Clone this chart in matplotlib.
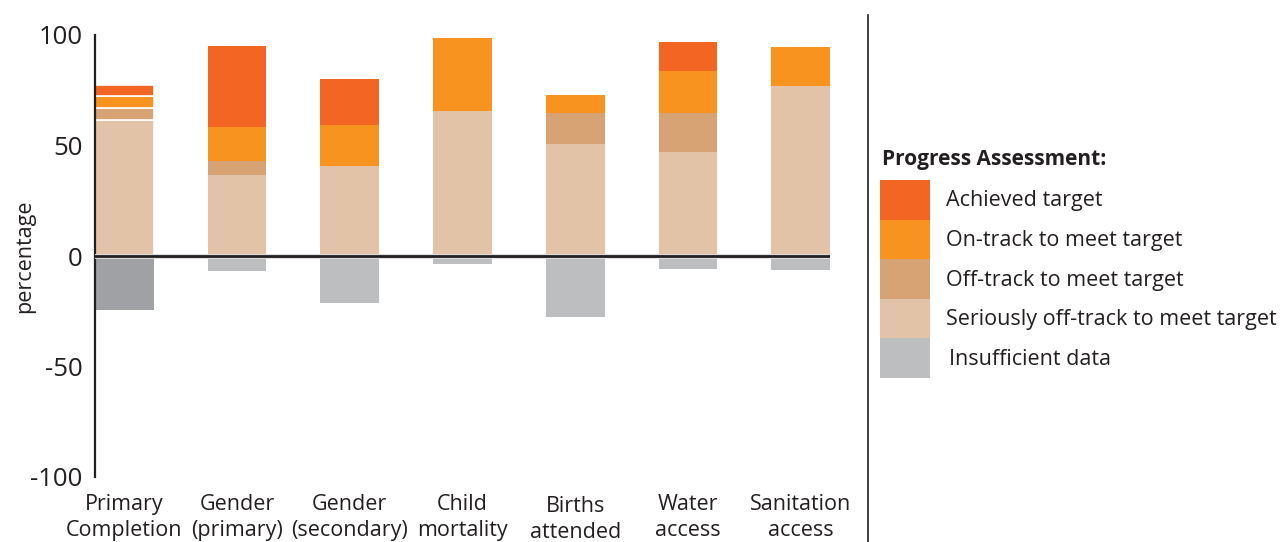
import numpy as np
import matplotlib.pyplot as plt
from matplotlib.lines import Line2D
from matplotlib.transforms import ScaledTranslation

plt.rcParams['font.family'] = ['Open Sans', 'DejaVu Sans']
plt.rcParams['axes.unicode_minus'] = False

categories = ["Primary\nCompletion", "Gender\n(primary)", "Gender\n(secondary)",
              "Child\nmortality", "Births\nattended", "Water\naccess", "Sanitation\naccess"]

seriously = [61.5, 36.7, 40.7, 65.6, 50.7, 47.1, 76.9]
off_track = [5.5, 6.4, 0.0, 0.0, 14.0, 17.6, 0.0]
on_track = [5.4, 15.3, 18.6, 33.0, 8.2, 19.0, 17.7]
achieved = [5.0, 36.6, 20.8, 0.0, 0.0, 13.1, 0.0]
insufficient = [24.4, 6.6, 21.1, 3.6, 27.6, 5.9, 6.3]

legend_labels = ["Achieved target", "On-track to meet target", "Off-track to meet target",
                 "Seriously off-track to meet target", "Insufficient data"]

c_achieved = "#f26522"
c_on = "#f7931e"
c_off = "#d7a375"
c_serious = "#e3c3a7"
c_insuff = "#bcbec0"
c_insuff_dark = "#a0a1a5"

W, H = 1286, 542
fig = plt.figure(figsize=(W / 100, H / 100), dpi=100)
ax = fig.add_axes([95 / W, 1 - 477 / H, (830 - 95) / W, (477 - 35) / H])

x = np.arange(len(categories))
width = 0.52

seriously = np.array(seriously)
off_track = np.array(off_track)
on_track = np.array(on_track)
achieved = np.array(achieved)
insufficient = np.array(insufficient)

# 第一根柱子的各段之間有白色分隔線
edges = ["white"] + ["none"] * (len(x) - 1)
lws = [1.2] + [0] * (len(x) - 1)

ax.bar(x, seriously, width, color=c_serious, edgecolor=edges, linewidth=lws)
ax.bar(x, off_track, width, bottom=seriously, color=c_off, edgecolor=edges, linewidth=lws)
ax.bar(x, on_track, width, bottom=seriously + off_track, color=c_on,
       edgecolor=edges, linewidth=lws)
ax.bar(x, achieved, width, bottom=seriously + off_track + on_track, color=c_achieved,
       edgecolor=edges, linewidth=lws)

insuff_colors = [c_insuff_dark] + [c_insuff] * (len(x) - 1)
ax.bar(x, -insufficient, width, color=insuff_colors)

ax.axhline(0, color="#dddddd", lw=3.5, zorder=3)
ax.axhline(0, color="#231f20", lw=2, zorder=4)

ax.set_xlim(-width / 2, len(x) - 1 + width / 2)
ax.set_ylim(-100, 100)
ax.set_yticks([-100, -50, 0, 50, 100])
ax.set_xticks(x)
ax.set_xticklabels(categories, fontsize=15.5, linespacing=1.33, color="#231f20")
ax.tick_params(axis="x", length=0, pad=12)
ax.tick_params(axis="y", length=0, pad=9, labelsize=18.5, labelcolor="#231f20")

# "Births attended" 在原圖中稍微偏低
lab = ax.get_xticklabels()[4]
lab.set_transform(lab.get_transform() + ScaledTranslation(0, -2 / 100, fig.dpi_scale_trans))

for s in ["top", "right", "bottom"]:
    ax.spines[s].set_visible(False)
ax.spines["left"].set_linewidth(1.6)
ax.spines["left"].set_color("#231f20")

ax.set_ylabel("percentage", fontsize=15.5, color="#231f20")
ax.yaxis.set_label_coords((35 - 95) / 735, 0.5)

# 分隔線
fig.add_artist(Line2D([868 / W, 868 / W], [0, 1 - 15 / H], color="#231f20", lw=1.2))

# 圖例
lax = fig.add_axes([870 / W, 1 - 390 / H, (W - 870) / W, 250 / H])
lax.set_xlim(870, W)
lax.set_ylim(390, 140)
lax.axis("off")

lax.text(882, 160, "Progress Assessment:", fontsize=15, fontweight="bold",
         va="center", ha="left", color="#231f20")
legend_colors = [c_achieved, c_on, c_off, c_serious, c_insuff]
for i, (lab, col) in enumerate(zip(legend_labels, legend_colors)):
    top = 180 + i * 39.6
    lax.bar(905, 39.6, 50, bottom=top, color=col)
    lax.text(946 + (3 if i == 4 else 0), top + 21, lab, fontsize=15.5,
             va="center", ha="left", color="#231f20")

fig.savefig("out.png", dpi=100)
